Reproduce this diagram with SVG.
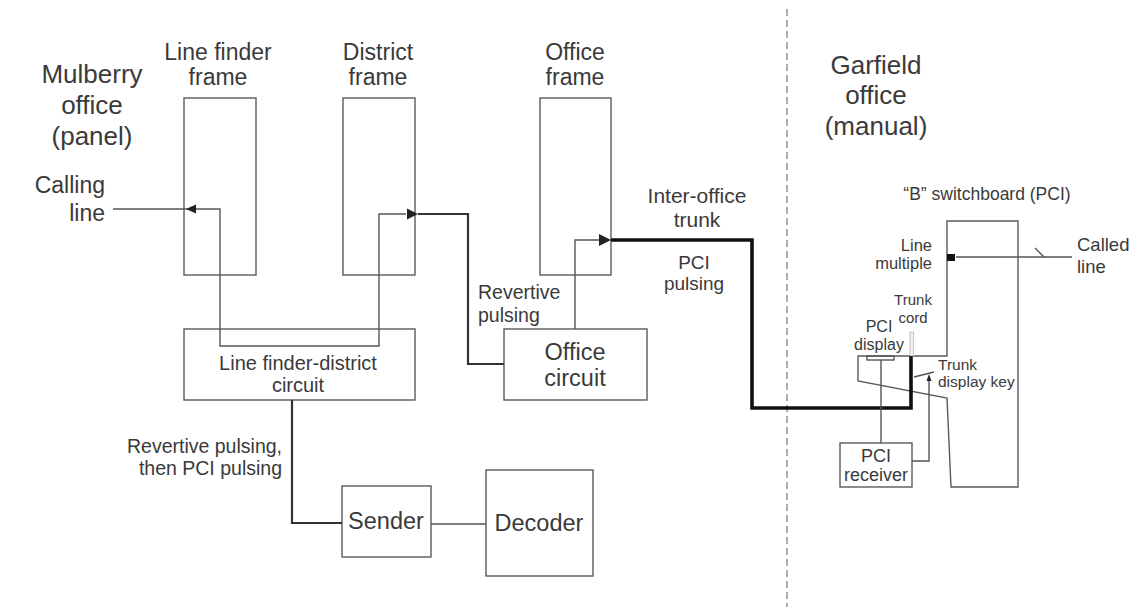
<svg xmlns="http://www.w3.org/2000/svg" width="1146" height="607" viewBox="0 0 1146 607">
<style>
text{font-family:"Liberation Sans",Arial,sans-serif;fill:#3a3a3a}
.c{text-anchor:middle}
.e{text-anchor:end}
.box{fill:none;stroke:#5a5a5a;stroke-width:1.4}
.thin{fill:none;stroke:#555;stroke-width:1.4}
.med{fill:none;stroke:#333;stroke-width:2.2}
.thick{fill:none;stroke:#111;stroke-width:3.6}
.dash{fill:none;stroke:#9a9a9a;stroke-width:1.6;stroke-dasharray:7 4}
.arr{fill:#222}
</style>
<rect width="1146" height="607" fill="#fff"/>

<line class="dash" x1="787" y1="9" x2="787" y2="607"/>

<text x="92" y="83" class="c" font-size="26">Mulberry</text>
<text x="92" y="114" class="c" font-size="26">office</text>
<text x="92" y="145" class="c" font-size="26">(panel)</text>

<text x="876" y="74" class="c" font-size="26">Garfield</text>
<text x="876" y="104" class="c" font-size="26">office</text>
<text x="876" y="135" class="c" font-size="26">(manual)</text>

<g id="linefinder">
<rect class="box" x="184" y="98" width="72" height="177"/>
<text x="218" y="60" class="c" font-size="23">Line finder</text>
<text x="218" y="85" class="c" font-size="23">frame</text>
</g>
<g id="district">
<rect class="box" x="343" y="98" width="72" height="177"/>
<text x="378" y="60" class="c" font-size="23">District</text>
<text x="378" y="85" class="c" font-size="23">frame</text>
</g>
<g id="officeframe">
<rect class="box" x="540" y="98" width="71" height="177"/>
<text x="575" y="60" class="c" font-size="23">Office</text>
<text x="575" y="85" class="c" font-size="23">frame</text>
</g>
<g id="lfdcircuit">
<rect class="box" x="184" y="329" width="231" height="71"/>
<text x="298" y="370" class="c" font-size="20">Line finder-district</text>
<text x="298" y="392" class="c" font-size="20">circuit</text>
</g>
<g id="officecircuit">
<rect class="box" x="504" y="329" width="143" height="71"/>
<text x="575" y="360" class="c" font-size="23.5">Office</text>
<text x="575" y="386" class="c" font-size="23.5">circuit</text>
</g>
<g id="sender">
<rect class="box" x="342" y="486" width="89" height="71"/>
<text x="386" y="529" class="c" font-size="23.5">Sender</text>
</g>
<g id="decoder">
<rect class="box" x="486" y="470" width="107" height="106"/>
<text x="539" y="531" class="c" font-size="23.5">Decoder</text>
</g>
<g id="switchboard">
<path class="box" d="M947,356 V221 H1018 V487 H951 L947,398 L858,381 V356 Z"/>
<text x="987" y="200" class="c" font-size="17.5">“B” switchboard (PCI)</text>
<rect x="947" y="254" width="8" height="7" fill="#111"/>
<text x="932" y="251" class="e" font-size="16.5">Line</text>
<text x="932" y="269" class="e" font-size="16.5">multiple</text>
</g>
<g id="pcidisplay">
<rect class="thin" x="867" y="356" width="27" height="4"/>
<text x="879" y="332" class="c" font-size="16">PCI</text>
<text x="879" y="350" class="c" font-size="16">display</text>
</g>
<g id="trunkcord">
<rect x="910" y="332" width="3.5" height="24" fill="#eee" stroke="#bbb" stroke-width="0.8"/>
<text x="913" y="305" class="c" font-size="15">Trunk</text>
<text x="913" y="323" class="c" font-size="15">cord</text>
</g>
<g id="pcireceiver">
<rect class="box" x="840" y="443" width="72" height="44"/>
<text x="876" y="462" class="c" font-size="18">PCI</text>
<text x="876" y="481" class="c" font-size="18">receiver</text>
</g>
<g id="displaykey">
<line class="thin" x1="914" y1="377" x2="934" y2="372"/>
<text x="938" y="370" font-size="15.5">Trunk</text>
<text x="938" y="387" font-size="15.5">display key</text>
</g>
<g id="calledline">
<text x="1077" y="251" font-size="18.5">Called</text>
<text x="1077" y="273" font-size="18.5">line</text>
</g>

<g id="connectors">
<line class="thin" x1="113" y1="209" x2="196" y2="209"/>
<polygon class="arr" points="186,209 196,204.5 196,213.5"/>
<polyline class="thin" points="196,209 220,209 220,346 379,346 379,214 406,214"/>
<polygon class="arr" points="418,214 407,208.5 407,219.5"/>
<polyline class="med" points="418,214 468,214 468,364 504,364"/>
<polyline class="thin" points="575,329 575,240 600,240"/>
<polygon class="arr" points="611,240 599,234 599,246"/>
<polyline class="thick" points="611,240 752,240 752,408 911,408 911,356"/>
<polyline class="med" points="292,400 292,523 342,523"/>
<line class="thin" x1="431" y1="524" x2="486" y2="524"/>
<line class="thin" x1="881" y1="360" x2="881" y2="443"/>
<polyline class="thin" points="912,461 929,461 929,380"/>
<polygon class="arr" points="929,374 926.5,381 931.5,381"/>
<line class="thin" x1="956" y1="257" x2="1072" y2="257"/>
<line class="thin" x1="1035" y1="248" x2="1044" y2="257"/>
<text x="697" y="203" class="c" font-size="21">Inter-office</text>
<text x="697" y="227" class="c" font-size="21">trunk</text>
<text x="694" y="269" class="c" font-size="19">PCI</text>
<text x="694" y="290" class="c" font-size="19">pulsing</text>
<text x="478" y="299" font-size="19.5">Revertive</text>
<text x="478" y="322" font-size="19.5">pulsing</text>
<text x="105" y="193" class="e" font-size="23">Calling</text>
<text x="105" y="221" class="e" font-size="23">line</text>
<text x="282" y="453" class="e" font-size="19.5">Revertive pulsing,</text>
<text x="282" y="475" class="e" font-size="19.5">then PCI pulsing</text>
</g>
</svg>
